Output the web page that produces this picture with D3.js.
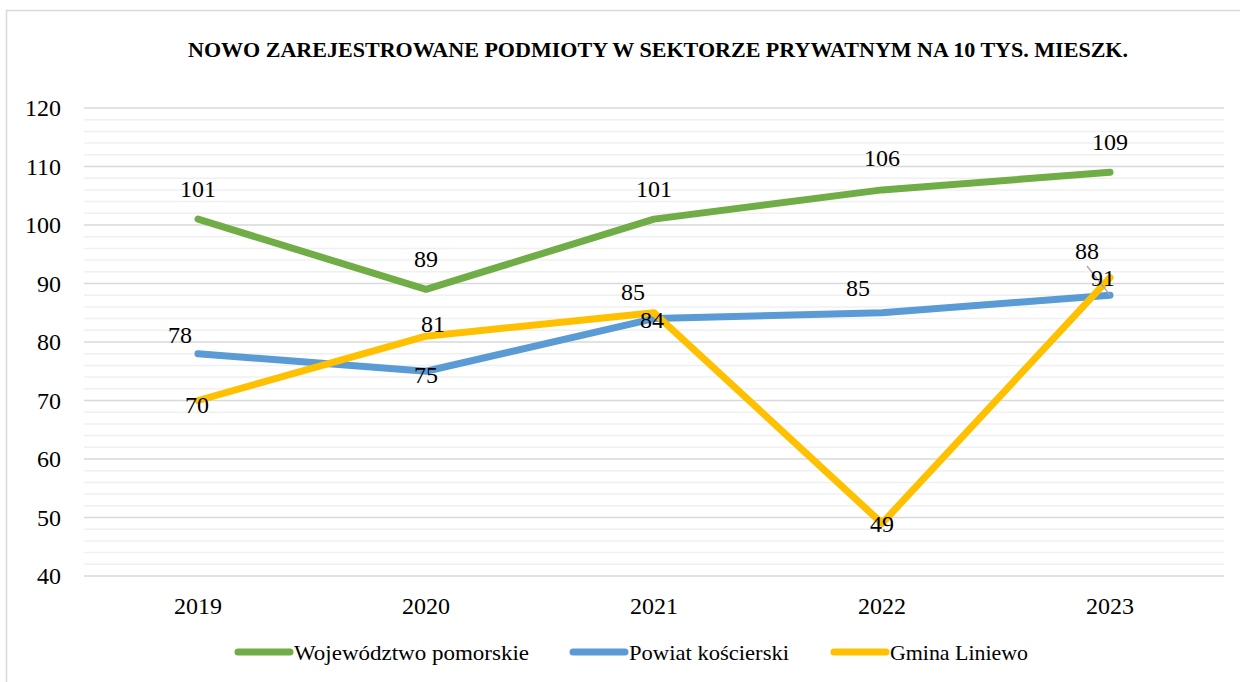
<!DOCTYPE html>
<html>
<head>
<meta charset="utf-8">
<script src="https://cdn.jsdelivr.net/npm/d3@7"></script>
<style>
  body { margin: 0; background: #fff; }
  text { font-family: "Liberation Serif", "DejaVu Serif", serif; }
</style>
</head>
<body>
<script>
var width = 1240;
var height = 682;

// data
var years = ["2019", "2020", "2021", "2022", "2023"];
var wojewodztwo = [101, 89, 101, 106, 109];
var powiat = [78, 75, 84, 85, 88];
var gmina = [70, 81, 85, 49, 91];
var seriesNames = ["Województwo pomorskie", "Powiat kościerski", "Gmina Liniewo"];
var yTicks = [40, 50, 60, 70, 80, 90, 100, 110, 120];

var colors = ["#70ad47", "#5b9bd5", "#ffc000"];

// label offsets (dx, dy) from the point, like excel placed them
var labelOffsets = [
    [[0, -31], [0, -31], [0, -31], [0, -32], [0, -31]],
    [[-18, -19], [0, 3], [-2, 1], [-24, -25], [-23, -45]],
    [[-1, 4], [7, -13], [-21, -21], [0, 0], [-7, 0]]
];

var margin = {left: 84, right: 16, top: 108, bottom: 106};

var svg = d3.select("body").append("svg")
    .attr("width", width)
    .attr("height", height);

// outer chart border
svg.append("rect")
    .attr("x", 6.5).attr("y", 10.5)
    .attr("width", 1240).attr("height", 700)
    .attr("fill", "none")
    .attr("stroke", "#d9d9d9")
    .attr("stroke-width", 1.5);

var x = d3.scalePoint()
    .domain(years)
    .range([margin.left, width - margin.right])
    .padding(0.5);

var y = d3.scaleLinear()
    .domain([40, 120])
    .range([height - margin.bottom, margin.top]);

// minor gridlines every 2
var minor = d3.range(40, 121, 2).filter(function(d) { return d % 10 != 0; });
svg.append("g").selectAll("line")
    .data(minor)
    .enter()
    .append("line")
    .attr("x1", margin.left).attr("x2", width - margin.right)
    .attr("y1", d => y(d)).attr("y2", d => y(d))
    .attr("stroke", "#f0f0f0")
    .attr("stroke-width", 1.5);

// major gridlines
svg.append("g").selectAll("line")
    .data(yTicks)
    .enter()
    .append("line")
    .attr("x1", margin.left).attr("x2", width - margin.right)
    .attr("y1", d => y(d)).attr("y2", d => y(d))
    .attr("stroke", "#d9d9d9")
    .attr("stroke-width", 1.5);

// y axis labels
svg.append("g").selectAll("text")
    .data(yTicks)
    .enter()
    .append("text")
    .attr("x", 61)
    .attr("y", d => y(d))
    .attr("dy", "0.35em")
    .attr("text-anchor", "end")
    .attr("font-size", 24)
    .attr("fill", "#000")
    .text(d => d);

// x axis labels
svg.append("g").selectAll("text")
    .data(years)
    .enter()
    .append("text")
    .attr("x", d => x(d))
    .attr("y", 614)
    .attr("text-anchor", "middle")
    .attr("font-size", 24)
    .attr("fill", "#000")
    .text(d => d);

// title
svg.append("text")
    .attr("x", 658)
    .attr("y", 57)
    .attr("text-anchor", "middle")
    .attr("font-size", 21)
    .attr("font-weight", "bold")
    .attr("textLength", 940)
    .attr("lengthAdjust", "spacingAndGlyphs")
    .text("NOWO ZAREJESTROWANE PODMIOTY W SEKTORZE PRYWATNYM NA 10 TYS. MIESZK.");

var allSeries = [wojewodztwo, powiat, gmina];

var line = d3.line()
    .x((d, i) => x(years[i]))
    .y(d => y(d));

allSeries.forEach(function(values, s) {
    svg.append("path")
        .datum(values)
        .attr("d", line)
        .attr("fill", "none")
        .attr("stroke", colors[s])
        .attr("stroke-width", 7)
        .attr("stroke-linecap", "round")
        .attr("stroke-linejoin", "round");
});

// leader line for the 88 label
svg.append("line")
    .attr("x1", 1087).attr("y1", 266)
    .attr("x2", x("2023")).attr("y2", y(powiat[4]))
    .attr("stroke", "#a6a6a6")
    .attr("stroke-width", 1.3);

allSeries.forEach(function(values, s) {
    svg.append("g").selectAll("text")
        .data(values)
        .enter()
        .append("text")
        .attr("x", (d, i) => x(years[i]) + labelOffsets[s][i][0])
        .attr("y", (d, i) => y(d) + labelOffsets[s][i][1])
        .attr("dy", "0.35em")
        .attr("text-anchor", "middle")
        .attr("font-size", 24)
        .attr("fill", "#000")
        .text(d => d);
});

// legend
var legendX = [238, 573, 834];
var legendW = [235, 160, 138];
var legend = svg.append("g");
seriesNames.forEach(function(name, s) {
    legend.append("line")
        .attr("x1", legendX[s]).attr("x2", legendX[s] + 52)
        .attr("y1", 652).attr("y2", 652)
        .attr("stroke", colors[s])
        .attr("stroke-width", 7)
        .attr("stroke-linecap", "round");
    legend.append("text")
        .attr("x", legendX[s] + 56)
        .attr("y", 652)
        .attr("dy", "0.35em")
        .attr("font-size", 22)
        .attr("fill", "#000")
        .attr("textLength", legendW[s])
        .attr("lengthAdjust", "spacingAndGlyphs")
        .text(name);
});
</script>
</body>
</html>
